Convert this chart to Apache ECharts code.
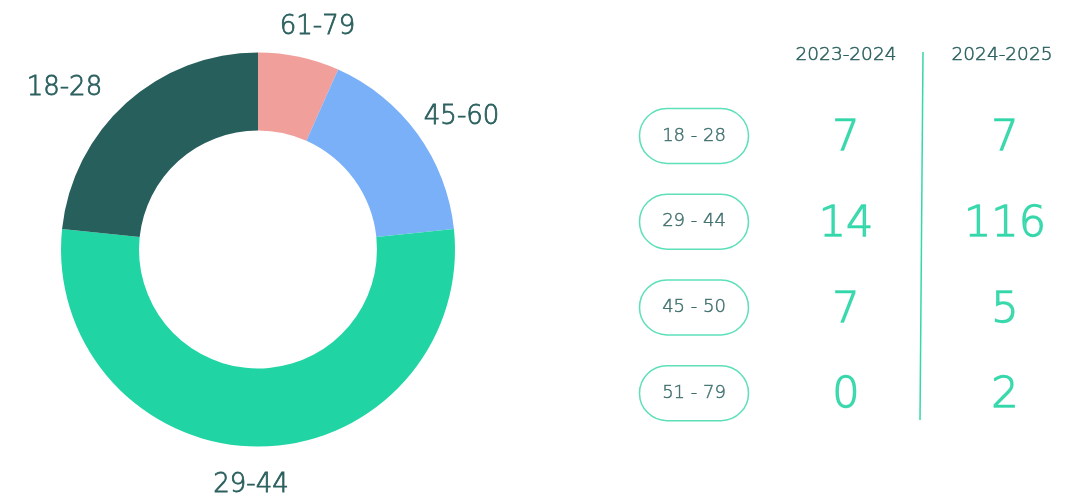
<!DOCTYPE html>
<html><head><meta charset="utf-8">
<style>html,body{margin:0;padding:0;background:#fff}#c{width:1081px;height:496px}</style>
<script src="https://cdn.jsdelivr.net/npm/echarts@6/dist/echarts.min.js"></script>
</head><body><div id="c"></div><script>
// ---- data ----
const pieLabels = ['61-79', '45-60', '29-44', '18-28'];
const pieValues = [2, 5, 16, 7];
const rowLabels = ['18 - 28', '29 - 44', '45 - 50', '51 - 79'];
const seasons = ['2023-2024', '2024-2025'];
const values2324 = [7, 14, 7, 0];
const values2425 = [7, 116, 5, 2];

// ---- styles ----
const pieColors = ['#f09f9b', '#79b0f8', '#21d4a4', '#275f5d'];
const labelNudge = [[9, 15], [7, 11], [-7, -7], [-31, 19]];
const FONT = 'DejaVu Sans';
const DARK = '#2b605e';
const GREEN = '#22d3a2';

const chart = echarts.init(document.getElementById('c'));

const pieData = pieLabels.map((n, i) => ({ name: n, value: pieValues[i], itemStyle: { color: pieColors[i] } }));
const ghostData = pieLabels.map((n, i) => ({ name: n, value: pieValues[i], label: { offset: labelNudge[i] } }));

const pillData = rowLabels.map((r, i) => [0, i]);
const col1Data = values2324.map((v, i) => [1, i, v]);
const col2Data = values2425.map((v, i) => [2, i, v]);

const numLabel = (dx) => ({
  show: true, position: 'inside', formatter: p => String(p.data[2]),
  fontFamily: FONT, fontWeight: 200, fontSize: 43, color: GREEN, offset: [dx, 3],
  textBorderColor: GREEN, textBorderWidth: 1.3
});

chart.setOption({
  animation: false,
  grid: { left: 612, width: 468, top: 93, height: 343, containLabel: false },
  xAxis: {
    type: 'category', position: 'top', data: [''].concat(seasons),
    axisLine: { show: false }, axisTick: { show: false }, splitLine: { show: false },
    axisLabel: { margin: 28, fontFamily: FONT, fontSize: 18.5, color: DARK, fontWeight: 200,
      textBorderColor: DARK, textBorderWidth: 0.5 }
  },
  yAxis: {
    type: 'category', inverse: true, data: rowLabels, show: false
  },
  graphic: [{
    type: 'line', silent: true,
    shape: { x1: 923, y1: 52, x2: 920, y2: 420 },
    style: { stroke: '#36d8a8', lineWidth: 1.5 }
  }],
  series: [
    {
      type: 'pie', center: [258, 249.5], radius: [119, 197], startAngle: 90, clockwise: true,
      data: pieData, label: { show: false }, labelLine: { show: false }, silent: true
    },
    {
      type: 'pie', center: [258, 249.5], radius: [240, 240], startAngle: 90, clockwise: true,
      data: ghostData, silent: true,
      itemStyle: { color: 'rgba(0,0,0,0)', borderWidth: 0 },
      label: { show: true, position: 'inside', formatter: '{b}', fontFamily: FONT, fontWeight: 200, fontSize: 26, color: DARK,
        textBorderColor: DARK, textBorderWidth: 0.8 },
      labelLine: { show: false }
    },
    {
      type: 'scatter', data: pillData, symbolSize: 1, itemStyle: { color: 'rgba(0,0,0,0)' }, silent: true,
      label: {
        show: true, position: 'inside', formatter: p => rowLabels[p.data[1]], offset: [4, 0],
        fontFamily: FONT, fontWeight: 200, fontSize: 18, color: DARK,
        textBorderColor: DARK, textBorderWidth: 0.5,
        width: 109, height: 55, lineHeight: 55, align: 'center', verticalAlign: 'middle',
        borderColor: '#35d7a8', borderWidth: 1.5, borderRadius: 28, padding: 0
      }
    },
    { type: 'scatter', data: col1Data, symbolSize: 1, itemStyle: { color: 'rgba(0,0,0,0)' }, silent: true, label: numLabel(0) },
    { type: 'scatter', data: col2Data, symbolSize: 1, itemStyle: { color: 'rgba(0,0,0,0)' }, silent: true, label: numLabel(3) }
  ]
});
</script></body></html>
